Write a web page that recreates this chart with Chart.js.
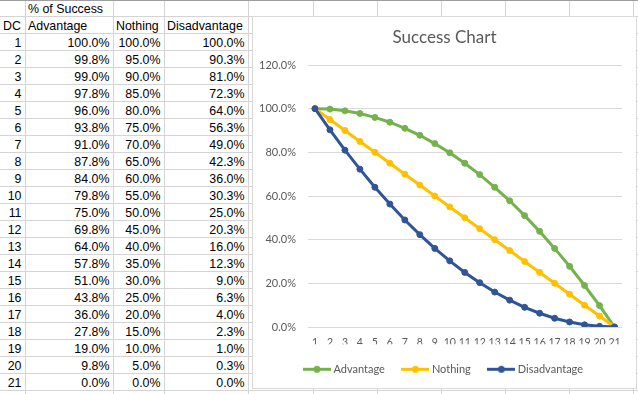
<!DOCTYPE html>
<html><head><meta charset="utf-8">
<script src="https://cdn.jsdelivr.net/npm/chart.js@4.4.1/dist/chart.umd.min.js"></script>
<style>
html,body{margin:0;padding:0;background:#fff;}
body{width:638px;height:394px;overflow:hidden;position:relative;font-family:"Liberation Sans",Arial,sans-serif;}
.vl{position:absolute;top:0;width:1px;height:394px;background:#D4D4D4;}
.hl{position:absolute;left:0;height:1px;width:638px;background:#D4D4D4;}
.top{position:absolute;left:0;top:0;height:1px;width:638px;background:#9E9E9E;z-index:3;}
.c{position:absolute;height:17px;line-height:17px;font-size:12.4px;color:#000;white-space:nowrap;z-index:2;}
#chartBox{position:absolute;left:252px;top:16px;width:385px;height:373px;box-sizing:border-box;border:1px solid #D9D9D9;background:#fff;z-index:5;}
canvas{display:block;}
</style></head><body>
<div id="sheet"></div>
<div id="chartBox"><canvas id="c" width="383" height="371"></canvas></div>
<script>
// ---- data ----
const dcLabels = ['1','2','3','4','5','6','7','8','9','10','11','12','13','14','15','16','17','18','19','20','21'];
const advantage = [100.0, 99.8, 99.0, 97.8, 96.0, 93.8, 91.0, 87.8, 84.0, 79.8, 75.0, 69.8, 64.0, 57.8, 51.0, 43.8, 36.0, 27.8, 19.0, 9.8, 0.0];
const nothing = [100.0, 95.0, 90.0, 85.0, 80.0, 75.0, 70.0, 65.0, 60.0, 55.0, 50.0, 45.0, 40.0, 35.0, 30.0, 25.0, 20.0, 15.0, 10.0, 5.0, 0.0];
const disadvantage = [100.0, 90.3, 81.0, 72.3, 64.0, 56.3, 49.0, 42.3, 36.0, 30.3, 25.0, 20.3, 16.0, 12.3, 9.0, 6.3, 4.0, 2.3, 1.0, 0.3, 0.0];
const seriesNames = ['Advantage', 'Nothing', 'Disadvantage'];
const tableTitle = '% of Success';
const dcHeader = 'DC';
const chartTitle = 'Success Chart';

// ---- spreadsheet grid ----
const sheet = document.getElementById('sheet');
const colEdges = [0, 25, 113, 164, 248, 313, 377, 441, 505, 569, 633];
const ROW_H = 17;
colEdges.slice(1).forEach(x => {
  const d = document.createElement('div'); d.className = 'vl'; d.style.left = x + 'px'; sheet.appendChild(d);
});
for (let k = 1; k <= 23; k++) {
  const d = document.createElement('div'); d.className = 'hl'; d.style.top = (k * ROW_H - 1) + 'px'; sheet.appendChild(d);
}
const topLine = document.createElement('div'); topLine.className = 'top'; sheet.appendChild(topLine);

function cell(row, col, text, align) {
  const d = document.createElement('div'); d.className = 'c';
  const l = colEdges[col], r = colEdges[col + 1];
  d.style.top = ((row - 1) * ROW_H + 0.5) + 'px';
  if (align === 'left') { d.style.left = (l + 3) + 'px'; }
  else { d.style.left = l + 'px'; d.style.width = (r - l - 3.5) + 'px'; d.style.textAlign = 'right'; }
  d.textContent = text;
  sheet.appendChild(d);
}
cell(1, 1, tableTitle, 'left');
cell(2, 0, dcHeader, 'left');
seriesNames.forEach((n, i) => cell(2, i + 1, n, 'left'));
const cols = [advantage, nothing, disadvantage];
dcLabels.forEach((dc, i) => {
  cell(3 + i, 0, dc, 'right');
  cols.forEach((arr, j) => cell(3 + i, j + 1, arr[i].toFixed(1) + '%', 'right'));
});

// ---- chart ----
const colors = ['#74B24C', '#FFC000', '#2F5597'];
function legendImg(color) {
  const cv = document.createElement('canvas'); cv.width = 28; cv.height = 9;
  const x = cv.getContext('2d');
  x.strokeStyle = color; x.lineWidth = 3;
  x.beginPath(); x.moveTo(0, 4.5); x.lineTo(28, 4.5); x.stroke();
  x.fillStyle = color; x.beginPath(); x.arc(14, 4.5, 3.5, 0, Math.PI * 2); x.fill();
  return cv;
}
const legendImgs = colors.map(legendImg);
const FONT = 'Lato';
const GREY = '#595959';

function build() {
  new Chart(document.getElementById('c'), {
    type: 'line',
    data: {
      labels: dcLabels,
      datasets: [advantage, nothing, disadvantage].map((arr, i) => ({
        label: seriesNames[i],
        data: arr,
        borderColor: colors[i],
        backgroundColor: colors[i],
        pointBackgroundColor: colors[i],
        pointBorderColor: colors[i],
        borderWidth: 3,
        pointRadius: 3,
        pointBorderWidth: 1,
        tension: 0,
        fill: false,
        order: 2 - i
      }))
    },
    options: {
      responsive: false,
      animation: false,
      devicePixelRatio: 1,
      layout: { padding: { left: 0, right: 0, top: 0, bottom: 3.2 } },
      plugins: {
        title: {
          display: true, text: chartTitle, color: GREY,
          font: { family: FONT, size: 17, weight: 'normal', lineHeight: 1.2 },
          padding: { top: 10.8, bottom: 16.8 }
        },
        legend: {
          position: 'bottom',
          labels: {
            usePointStyle: true, pointStyleWidth: 22, padding: 19.5, color: GREY,
            font: { family: FONT, size: 11 },
            generateLabels(chart) {
              return chart.data.datasets.map((ds, i) => ({
                text: ds.label, pointStyle: legendImgs[i], fillStyle: ds.borderColor,
                strokeStyle: ds.borderColor, lineWidth: 0, hidden: false, datasetIndex: i, fontColor: GREY
              }));
            }
          }
        },
        tooltip: { enabled: false }
      },
      scales: {
        x: {
          offset: true,
          grid: { display: false, drawTicks: false },
          border: { display: false },
          ticks: { color: GREY, font: { family: FONT, size: 10.5 }, padding: 9, autoSkip: false, maxRotation: 0 },
          afterFit(s) { s.height = 17.3; }
        },
        y: {
          min: 0, max: 120,
          grid: { color: '#D9D9D9', drawTicks: false },
          border: { display: false },
          ticks: { stepSize: 20, padding: 11.5, color: GREY, font: { family: FONT, size: 11 }, callback: v => v.toFixed(1) + '%' },
          afterFit(s) { s.width = 54.5; }
        },
        y2: {
          position: 'right', display: true,
          grid: { display: false, drawTicks: false },
          border: { display: false },
          ticks: { display: false },
          afterFit(s) { s.width = 14; }
        }
      }
    }
  });
}
if (document.fonts && document.fonts.load) {
  Promise.all([document.fonts.load('11px Lato'), document.fonts.load('17px Lato')]).then(build, build);
} else build();
</script>
</body></html>
